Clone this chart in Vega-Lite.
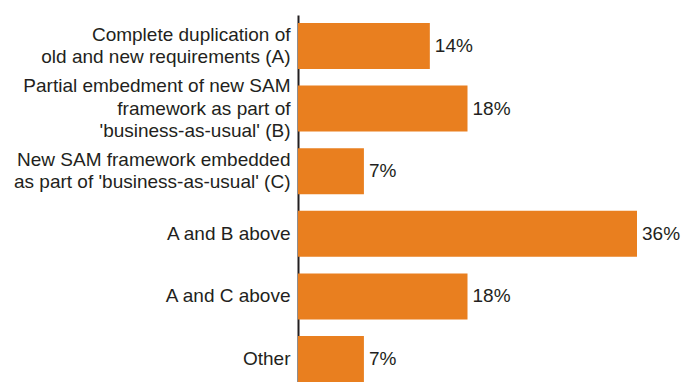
{
  "$schema": "https://vega.github.io/schema/vega-lite/v6.json",
  "autosize": {"type": "none"},
  "padding": {"left": 298, "top": 15, "right": 45, "bottom": 0},
  "width": 339,
  "height": 367,
  "background": "white",
  "config": {
    "view": {"stroke": null},
    "font": "Liberation Sans",
    "text": {"font": "Liberation Sans"}
  },
  "data": {
    "values": [
      {"category": "Complete duplication of|old and new requirements (A)", "value": 14, "label": "14%"},
      {"category": "Partial embedment of new SAM|framework as part of|'business-as-usual' (B)", "value": 18, "label": "18%"},
      {"category": "New SAM framework embedded|as part of 'business-as-usual' (C)", "value": 7, "label": "7%"},
      {"category": "A and B above", "value": 36, "label": "36%"},
      {"category": "A and C above", "value": 18, "label": "18%"},
      {"category": "Other", "value": 7, "label": "7%"}
    ]
  },
  "encoding": {
    "y": {
      "field": "category",
      "type": "nominal",
      "sort": null,
      "scale": {"paddingInner": 0.265, "paddingOuter": 0.064, "align": 1},
      "axis": {
        "title": null,
        "labelExpr": "split(datum.label, '|')",
        "labelFont": "Liberation Sans",
        "labelFontSize": 19,
        "labelLineHeight": 22.5,
        "labelColor": "#231F20",
        "labelPadding": 8,
        "labelLimit": 320,
        "labelOffset": {
          "condition": [
            {"test": "length(split(datum.value, '|')) == 3", "value": -22.5},
            {"test": "length(split(datum.value, '|')) == 2", "value": -11.25}
          ],
          "value": 0
        },
        "ticks": false,
        "domainColor": "#231F20",
        "domainWidth": 2,
        "grid": false
      }
    },
    "x": {
      "field": "value",
      "type": "quantitative",
      "scale": {"domain": [0, 36], "nice": false},
      "axis": null
    }
  },
  "layer": [
    {"mark": {"type": "bar", "color": "#E97F1F"}},
    {
      "mark": {"type": "text", "align": "left", "baseline": "middle", "dx": 5, "fontSize": 19, "color": "#231F20"},
      "encoding": {"text": {"field": "label"}}
    }
  ]
}
